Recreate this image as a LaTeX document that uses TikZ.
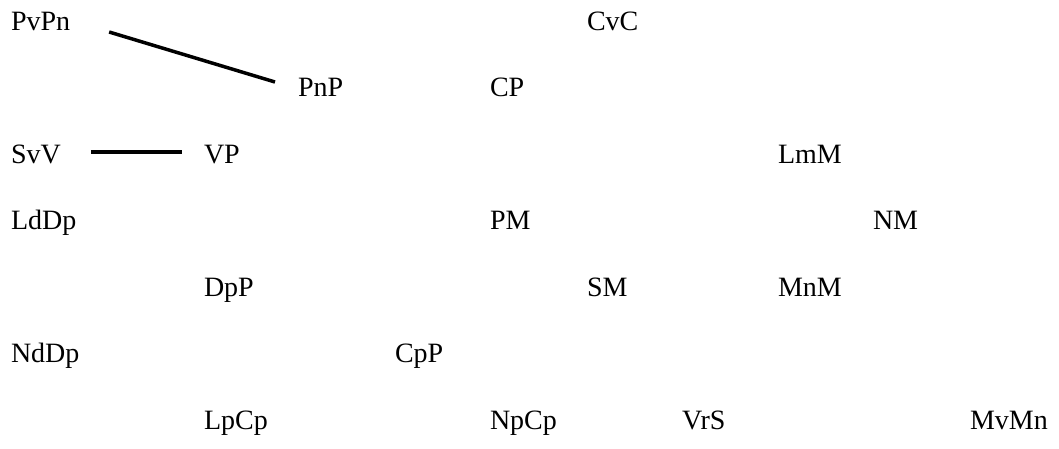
\documentclass[tikz,border=0pt]{standalone}
\usepackage{fontspec}
\setmainfont{Liberation Serif}
\usetikzlibrary{calc}
\begin{document}
\begin{tikzpicture}[x=1pt,y=-1pt,
  lbl/.style={anchor=base west,inner sep=0pt,outer sep=0pt,font=\fontsize{28}{30}\selectfont},
  link/.style={line width=3.5pt}]
\useasboundingbox (0,0) rectangle (1059,448);
% row 1
\node[lbl] (PvPn) at (11,30) {PvPn};
\node[lbl] (CvC) at (587,30) {CvC};
% row 2
\node[lbl] (PnP) at (298,96.5) {PnP};
\node[lbl] (CP) at (490,96.5) {CP};
% row 3
\node[lbl] (SvV) at (11,163) {SvV};
\node[lbl] (VP) at (204,163) {VP};
\node[lbl] (LmM) at (778,163) {LmM};
% row 4
\node[lbl] (LdDp) at (11,229.5) {LdDp};
\node[lbl] (PM) at (490,229.5) {PM};
\node[lbl] (NM) at (873,229.5) {NM};
% row 5
\node[lbl] (DpP) at (204,296) {DpP};
\node[lbl] (SM) at (587,296) {SM};
\node[lbl] (MnM) at (778,296) {MnM};
% row 6
\node[lbl] (NdDp) at (11,362.5) {NdDp};
\node[lbl] (CpP) at (395,362.5) {CpP};
% row 7
\node[lbl] (LpCp) at (204,429) {LpCp};
\node[lbl] (NpCp) at (490,429) {NpCp};
\node[lbl] (VrS) at (682,429) {VrS};
\node[lbl] (MvMn) at (970,429) {MvMn};
% connectors
\draw[link] ($(PvPn.base east)+(39,2)$) -- ($(PnP.base west)+(-23,-14.5)$);
\draw[link] ($(SvV.base east)+(30,-11)$) -- ($(VP.base west)+(-22,-11)$);
\end{tikzpicture}
\end{document}
